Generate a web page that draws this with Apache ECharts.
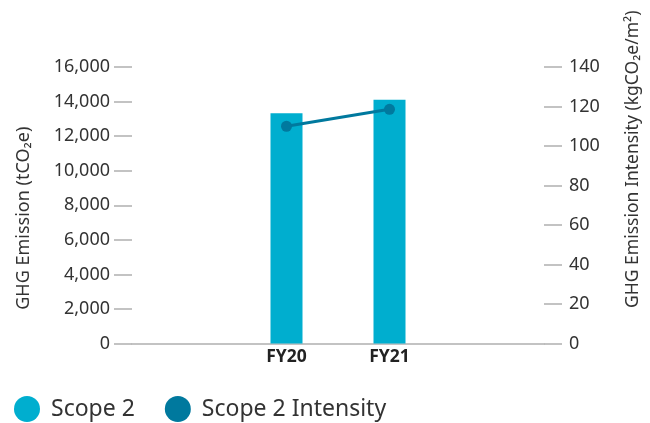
<!DOCTYPE html>
<html>
<head>
<meta charset="utf-8">
<script src="https://cdn.jsdelivr.net/npm/echarts@6/dist/echarts.min.js"></script>
<style>
  html, body { margin: 0; padding: 0; background: #fff; }
  #chart { width: 650px; height: 423px; }
</style>
</head>
<body>
<div id="chart"></div>
<script>
// Categories (outer blanks leave room on both sides of the two fiscal years)
const categories = ['', 'FY20', 'FY21', ''];
// Scope 2 emissions, tCO2e
const scope2 = [null, 13320, 14100, null];
// Scope 2 intensity, kgCO2e/m2
const scope2Intensity = [null, 110, 118.6, null];
// Axis ranges and steps
const leftMax = 16000, leftStep = 2000;
const rightMax = 140, rightStep = 20;

const FONT = '"Noto Sans", sans-serif';
const BAR = '#00aecf';
const LINE = '#00799e';
const GREY = '#b0b0b0';
const TEXT = '#333333';

const chart = echarts.init(document.getElementById('chart'));
chart.setOption({
  animation: false,
  textStyle: { fontFamily: FONT },
  grid: { left: 132, right: 101, top: 67, bottom: 79.5 },
  legend: {
    left: 9, top: 391,
    icon: 'circle',
    itemWidth: 26, itemHeight: 26, itemGap: 30,
    textStyle: { fontFamily: FONT, fontSize: 23, color: TEXT, padding: [0, 0, 0, 6] },
    data: ['Scope 2', 'Scope 2 Intensity']
  },
  xAxis: {
    type: 'category',
    data: categories,
    axisLine: { lineStyle: { color: GREY, width: 1.5 } },
    axisTick: { show: false },
    axisLabel: { color: '#222', fontWeight: 'bold', fontSize: 17.5, margin: 5, fontFamily: FONT }
  },
  yAxis: [
    {
      type: 'value', min: 0, max: leftMax, interval: leftStep,
      position: 'left',
      name: 'GHG Emission (tCO₂e)',
      nameLocation: 'middle', nameRotate: 90, nameGap: 99,
      nameTextStyle: { fontSize: 18, color: TEXT, fontFamily: FONT, padding: [0, 26, 0, 0] },
      axisLine: { show: false },
      axisTick: { show: true, length: 18, lineStyle: { color: GREY, width: 1.5 } },
      axisLabel: {
        margin: 22, fontSize: 18, color: TEXT, fontFamily: FONT,
        formatter: v => v.toLocaleString('en-US')
      },
      splitLine: { show: false }
    },
    {
      type: 'value', min: 0, max: rightMax, interval: rightStep,
      position: 'right',
      name: 'GHG Emission Intensity (kgCO₂e/m²)',
      nameLocation: 'middle', nameRotate: 90, nameGap: 80,
      nameTextStyle: { fontSize: 17.5, color: TEXT, fontFamily: FONT, padding: [0, 0, 0, 92] },
      axisLine: { show: false },
      axisTick: { show: true, length: 18, lineStyle: { color: GREY, width: 1.5 } },
      axisLabel: { margin: 25, fontSize: 18, color: TEXT, fontFamily: FONT },
      splitLine: { show: false }
    }
  ],
  series: [
    {
      name: 'Scope 2', type: 'bar', yAxisIndex: 0,
      data: scope2, barWidth: 32,
      itemStyle: { color: BAR }
    },
    {
      name: 'Scope 2 Intensity', type: 'line', yAxisIndex: 1,
      data: scope2Intensity,
      symbol: 'circle', symbolSize: 11,
      lineStyle: { color: LINE, width: 3 },
      itemStyle: { color: LINE }
    }
  ]
});
</script>
</body>
</html>
